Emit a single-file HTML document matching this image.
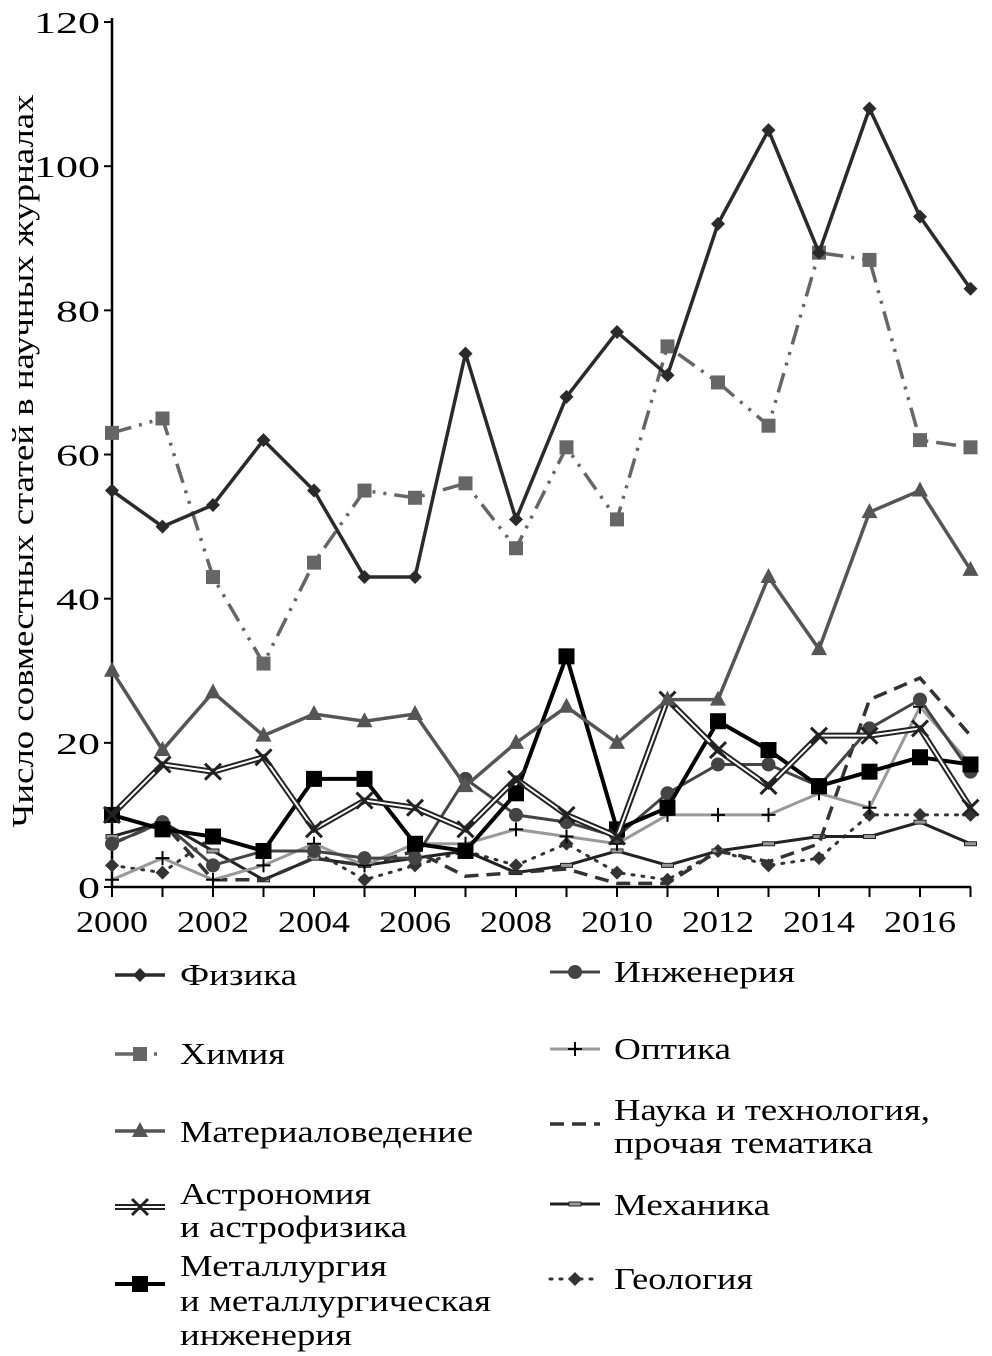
<!DOCTYPE html>
<html><head><meta charset="utf-8"><style>
html,body{margin:0;padding:0;background:#fff;}
svg{display:block;font-family:"Liberation Serif",serif;}
</style></head><body>
<svg id="chart" width="992" height="1356" viewBox="0 0 992 1356" xmlns="http://www.w3.org/2000/svg">
<text transform="translate(33,461) rotate(-90)" text-anchor="middle" font-size="31" textLength="733" lengthAdjust="spacingAndGlyphs">Число совместных статей в научных  журналах</text>
</svg>
<script>
const years=[2000,2001,2002,2003,2004,2005,2006,2007,2008,2009,2010,2011,2012,2013,2014,2015,2016,2017];
const yTicks=[0,20,40,60,80,100,120];
const xTickLabels=[2000,2002,2004,2006,2008,2010,2012,2014,2016];
const physics=[55,50,53,62,55,43,43,74,51,68,77,71,92,105,88,108,93,83];
const chemistry=[63,65,43,31,45,55,54,56,47,61,51,75,70,64,88,87,62,61];
const materials=[30,19,27,21,24,23,24,14,20,25,20,26,26,43,33,52,55,44];
const astronomy=[10,17,16,18,8,12,11,8,15,10,7,26,19,14,21,21,22,11];
const metallurgy=[10,8,7,5,15,15,6,5,13,32,8,11,23,19,14,16,18,17];
const engineering=[6,9,3,5,5,4,4,15,10,9,7,13,17,17,14,22,26,16];
const optics=[1,4,1,3,6,3,6,6,8,7,6,10,10,10,13,11,25,17];
const scitech=[6,9,1,1,4,3,5,1.5,2,2.5,0.5,0.5,5,3.5,6,26,29,21];
const mechanics=[7,9,5,1,4,3,4,5,2,3,5,3,5,6,7,7,9,6];
const geology=[3,2,7,5,5,1,3,5,3,6,2,1,5,3,4,10,10,10];

const NS="http://www.w3.org/2000/svg";
const svg=document.getElementById('chart');
const X=v=>112+(v-2000)*50.5;
const Y=v=>887-v*7.208;
function el(t,a,p){const e=document.createElementNS(NS,t);for(const k in a)e.setAttribute(k,a[k]);(p||svg).appendChild(e);return e;}

const ax=el('g',{});


el('line',{x1:112,y1:18,x2:112,y2:888,stroke:'#000','stroke-width':2.5},ax);
el('line',{x1:111,y1:887,x2:971,y2:887,stroke:'#000','stroke-width':2.5},ax);
yTicks.forEach(v=>{
  el('line',{x1:104,y1:Y(v),x2:112,y2:Y(v),stroke:'#000','stroke-width':2},ax);
  const w=String(v).length*22;
  const t=el('text',{x:100-w,y:Y(v)+11,'font-size':31,textLength:w,lengthAdjust:'spacingAndGlyphs'},ax);
  
  
  t.textContent=v;
});
years.forEach(yr=>{el('line',{x1:X(yr),y1:887,x2:X(yr),y2:897,stroke:'#000','stroke-width':2},ax);});
xTickLabels.forEach(yr=>{
  const t=el('text',{x:X(yr)-36,y:932,'font-size':31,textLength:72,lengthAdjust:'spacingAndGlyphs'},ax);
  
  
  t.textContent=yr;
});

function marker(g,type,x,y,color){
  if(type==='diamond')el('polygon',{points:`${x},${y-7} ${x+7},${y} ${x},${y+7} ${x-7},${y}`,fill:color},g);
  else if(type==='bigsquare')el('rect',{x:x-8,y:y-8,width:16,height:16,fill:color},g);
  else if(type==='square')el('rect',{x:x-7,y:y-7,width:14,height:14,fill:color},g);
  else if(type==='tri')el('polygon',{points:`${x},${y-9} ${x+8},${y+6} ${x-8},${y+6}`,fill:color},g);
  else if(type==='circle')el('circle',{cx:x,cy:y,r:7,fill:color},g);
  else if(type==='x'){el('path',{d:`M${x-8},${y-8}L${x+8},${y+8}M${x+8},${y-8}L${x-8},${y+8}`,stroke:color,'stroke-width':3},g);}
  else if(type==='plus'){el('path',{d:`M${x-7},${y}L${x+7},${y}M${x},${y-7}L${x},${y+7}`,stroke:'#000','stroke-width':2},g);}
  else if(type==='dash'){el('rect',{x:x-6,y:y-2,width:12,height:4,fill:'#999',stroke:'#222','stroke-width':1},g);}
}
const series=[
 {name:'geology',d:geology,c:'#333',w:3,dash:'2 8',m:'diamond',cap:'round'},
 {name:'mechanics',d:mechanics,c:'#222',w:3,m:'dash'},
 {name:'scitech',d:scitech,c:'#333',w:3.5,dash:'14 8',m:null},
 {name:'optics',d:optics,c:'#999',w:3,m:'plus'},
 {name:'engineering',d:engineering,c:'#444',w:3,m:'circle'},
 {name:'metallurgy',d:metallurgy,c:'#000',w:4,m:'bigsquare'},
 {name:'astronomy',d:astronomy,c:'#222',w:6,double:true,m:'x'},
 {name:'materials',d:materials,c:'#555',w:3.5,m:'tri'},
 {name:'chemistry',d:chemistry,c:'#666',w:3.5,dash:'20 8 3 8 3 8',m:'square'},
 {name:'physics',d:physics,c:'#2a2a2a',w:3.5,m:'diamond'}
];
function draw(s,pts,g){
  const d='M'+pts.map(p=>p.join(',')).join('L');
  el('path',{d:d,fill:'none',stroke:s.c,'stroke-width':s.w,'stroke-dasharray':s.dash||'none','stroke-linecap':s.cap||'butt','stroke-linejoin':'miter'},g);
  if(s.double)el('path',{d:d,fill:'none',stroke:'#fff','stroke-width':2},g);
}
series.forEach(s=>{
  const g=el('g',{});
  
  
  const pts=s.d.map((v,i)=>[X(years[i]),Y(v)]);
  draw(s,pts,g);
  if(s.m)pts.forEach(p=>marker(g,s.m,p[0],p[1],s.c));
});

const legend=[
 {s:'physics',x:115,y:975,tx:180,lines:[['Физика',975,117]]},
 {s:'chemistry',x:115,y:1054,tx:180,lines:[['Химия',1054,105]]},
 {s:'materials',x:115,y:1131,tx:180,lines:[['Материаловедение',1132,293]]},
 {s:'astronomy',x:115,y:1207,tx:180,lines:[['Астрономия',1194,191],['и астрофизика',1227,227]]},
 {s:'metallurgy',x:115,y:1284,tx:180,lines:[['Металлургия',1266,207],['и металлургическая',1301,311],['инженерия',1335,172]]},
 {s:'engineering',x:550,y:972,tx:614,lines:[['Инженерия',972,181]]},
 {s:'optics',x:550,y:1049,tx:614,lines:[['Оптика',1049,117]]},
 {s:'scitech',x:550,y:1124,tx:614,lines:[['Наука и технология,',1110,316],['прочая тематика',1143,259]]},
 {s:'mechanics',x:550,y:1204,tx:614,lines:[['Механика',1205,156]]},
 {s:'geology',x:550,y:1279,tx:614,lines:[['Геология',1279,139]]}
];
legend.forEach(L=>{
  const s=series.find(q=>q.name===L.s);
  const g=el('g',{});
  
  
  draw(s,[[L.x,L.y],[L.x+50,L.y]],g);
  if(s.m)marker(g,s.m,L.x+25,L.y,s.c);
  L.lines.forEach(([t,cy,w])=>{
    const tx=el('text',{x:L.tx,y:cy+10,'font-size':31,textLength:w,lengthAdjust:'spacingAndGlyphs'},g);
    tx.textContent=t;
  });
});
</script>
</body></html>
